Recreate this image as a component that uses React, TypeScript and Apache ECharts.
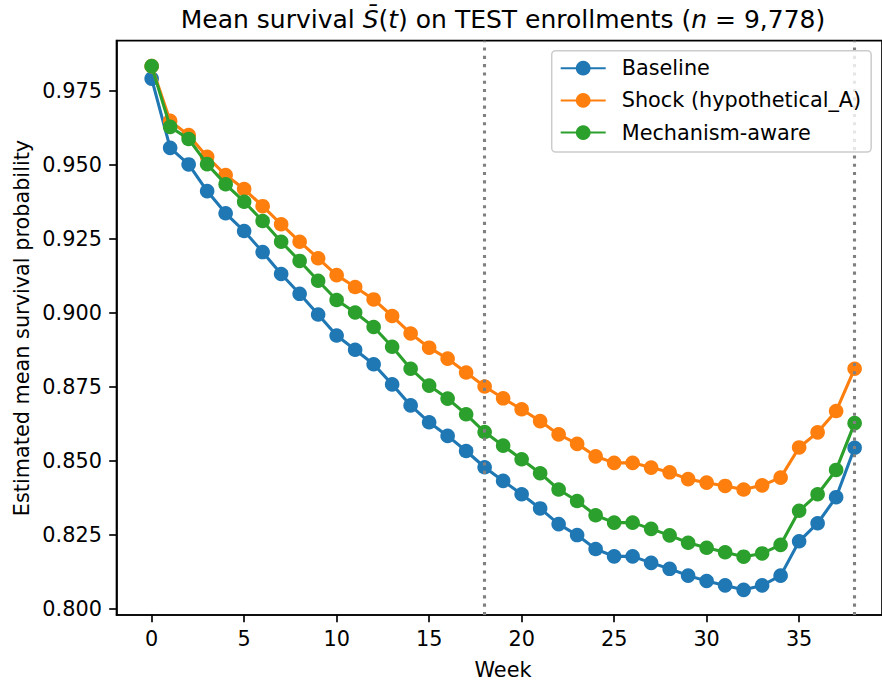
import React, { useEffect, useRef } from 'react';
import * as echarts from 'echarts';

const weeks = [0, 1, 2, 3, 4, 5, 6, 7, 8, 9, 10, 11, 12, 13, 14, 15, 16, 17, 18, 19, 20, 21, 22, 23, 24, 25, 26, 27, 28, 29, 30, 31, 32, 33, 34, 35, 36, 37, 38];

const baseline = [0.9791, 0.9557, 0.9501, 0.9411, 0.9336, 0.9276, 0.9205, 0.9131, 0.9064, 0.8994, 0.8923, 0.8875, 0.8826, 0.8758, 0.8687, 0.8630, 0.8584, 0.8533, 0.8478, 0.8432, 0.8387, 0.8339, 0.8286, 0.8249, 0.8202, 0.8177, 0.8177, 0.8155, 0.8135, 0.8112, 0.8094, 0.8079, 0.8064, 0.8079, 0.8112, 0.8228, 0.8289, 0.8377, 0.8544];

const shock = [0.9833, 0.9648, 0.9600, 0.9527, 0.9465, 0.9418, 0.9360, 0.9299, 0.9240, 0.9184, 0.9127, 0.9087, 0.9045, 0.8989, 0.8930, 0.8882, 0.8845, 0.8798, 0.8751, 0.8711, 0.8674, 0.8634, 0.8589, 0.8557, 0.8515, 0.8493, 0.8493, 0.8477, 0.8461, 0.8438, 0.8426, 0.8415, 0.8403, 0.8417, 0.8443, 0.8545, 0.8596, 0.8668, 0.8811];

const mechanism = [0.9833, 0.9628, 0.9587, 0.9502, 0.9434, 0.9375, 0.9310, 0.9240, 0.9175, 0.9108, 0.9043, 0.9001, 0.8952, 0.8885, 0.8811, 0.8754, 0.8710, 0.8657, 0.8597, 0.8551, 0.8505, 0.8458, 0.8403, 0.8364, 0.8316, 0.8291, 0.8291, 0.8270, 0.8248, 0.8223, 0.8206, 0.8191, 0.8176, 0.8187, 0.8216, 0.8331, 0.8387, 0.8469, 0.8627];

const seriesNames = ['Baseline', 'Shock (hypothetical_A)', 'Mechanism-aware'];
const seriesColors = ['#1f77b4', '#ff7f0e', '#2ca02c'];
const xTicks = [0, 5, 10, 15, 20, 25, 30, 35];
const yTicks = [0.8, 0.825, 0.85, 0.875, 0.9, 0.925, 0.95, 0.975];
const vLines = [18, 38];

const FONT = 'DejaVu Sans';

export default function App() {
  const ref = useRef<HTMLDivElement>(null);

  useEffect(() => {
    if (!ref.current) return;
    const chart = echarts.init(ref.current, null, { renderer: 'svg' });
    const allData = [baseline, shock, mechanism];

    const lineSeries = allData.map((vals, i) => ({
      name: seriesNames[i],
      type: 'line',
      data: weeks.map((w, j) => [w, vals[j]]),
      symbol: 'circle',
      symbolSize: 14.6,
      showSymbol: true,
      color: seriesColors[i],
      lineStyle: { width: 3.1, color: seriesColors[i] },
      itemStyle: { color: seriesColors[i] },
      z: 2 + i,
    }));

    const option: any = {
      animation: false,
      grid: {
        left: 116.5,
        top: 40.7,
        right: 0,
        bottom: 70,
        show: true,
        borderColor: '#000',
        borderWidth: 1.67,
        backgroundColor: 'transparent',
      },
      xAxis: {
        type: 'value',
        min: -1.9,
        max: 39.48,
        splitLine: { show: false },
        axisLine: { show: true, onZero: false, lineStyle: { color: '#000', width: 1.67 } },
        axisTick: { show: true, inside: false, length: 7.3, lineStyle: { color: '#000', width: 1.67 }, customValues: xTicks },
        axisLabel: {
          customValues: xTicks,
          margin: 13,
          color: '#000',
          fontFamily: FONT,
          fontSize: 20.8,
          formatter: (v: number) => String(v),
        },
      },
      yAxis: {
        type: 'value',
        min: 0.7979,
        max: 0.9919,
        splitLine: { show: false },
        axisLine: { show: true, onZero: false, lineStyle: { color: '#000', width: 1.67 } },
        axisTick: { show: true, inside: false, length: 7.3, lineStyle: { color: '#000', width: 1.67 }, customValues: yTicks },
        axisLabel: {
          customValues: yTicks,
          margin: 14.6,
          color: '#000',
          fontFamily: FONT,
          fontSize: 20.8,
          formatter: (v: number) => v.toFixed(3),
        },
      },
      legend: {
        show: true,
        orient: 'vertical',
        left: 551.7,
        top: 50.7,
        z: 30,
        data: seriesNames,
        itemWidth: 45,
        itemHeight: 18.5,
        itemGap: 11.2,
        padding: [7, 10, 9, 8],
        backgroundColor: 'rgba(255,255,255,0.8)',
        borderColor: '#cccccc',
        borderWidth: 1.5,
        borderRadius: 4,
        textStyle: {
          color: '#000',
          fontFamily: FONT,
          fontSize: 20.8,
          lineHeight: 21,
          padding: [0, 0, 0, 11],
        },
      },
      graphic: [
        {
          type: 'text',
          x: 503,
          y: 19,
          style: {
            text: 'Mean survival {i|S\u0304}({i|t}) on TEST enrollments ({i|n} = 9,778)',
            rich: {
              i: { fontStyle: 'italic', fontFamily: FONT, fontSize: 25, fill: '#000' },
            },
            fontFamily: FONT,
            fontSize: 25,
            fill: '#000',
            align: 'center',
            verticalAlign: 'middle',
          },
        },
        {
          type: 'text',
          x: 503,
          y: 670,
          style: {
            text: 'Week',
            fontFamily: FONT,
            fontSize: 20.8,
            fill: '#000',
            align: 'center',
            verticalAlign: 'middle',
          },
        },
        {
          type: 'text',
          x: 22,
          y: 328,
          rotation: Math.PI / 2,
          style: {
            text: 'Estimated mean survival probability',
            fontFamily: FONT,
            fontSize: 20.8,
            fill: '#000',
            align: 'center',
            verticalAlign: 'middle',
          },
        },
      ],
      series: [
        ...lineSeries,
        {
          name: 'vlines',
          type: 'line',
          data: [],
          z: 10,
          silent: true,
          markLine: {
            silent: true,
            symbol: ['none', 'none'],
            label: { show: false },
            lineStyle: { color: '#808080', width: 3.1, type: [3.1, 5.2], cap: 'butt' },
            data: vLines.map((v) => ({ xAxis: v })),
          },
        },
      ],
    };

    chart.setOption(option);
    return () => chart.dispose();
  }, []);

  return (
    <div
      ref={ref}
      style={{ position: 'fixed', left: 0, top: 0, width: 882, height: 685, background: '#fff' }}
    />
  );
}
